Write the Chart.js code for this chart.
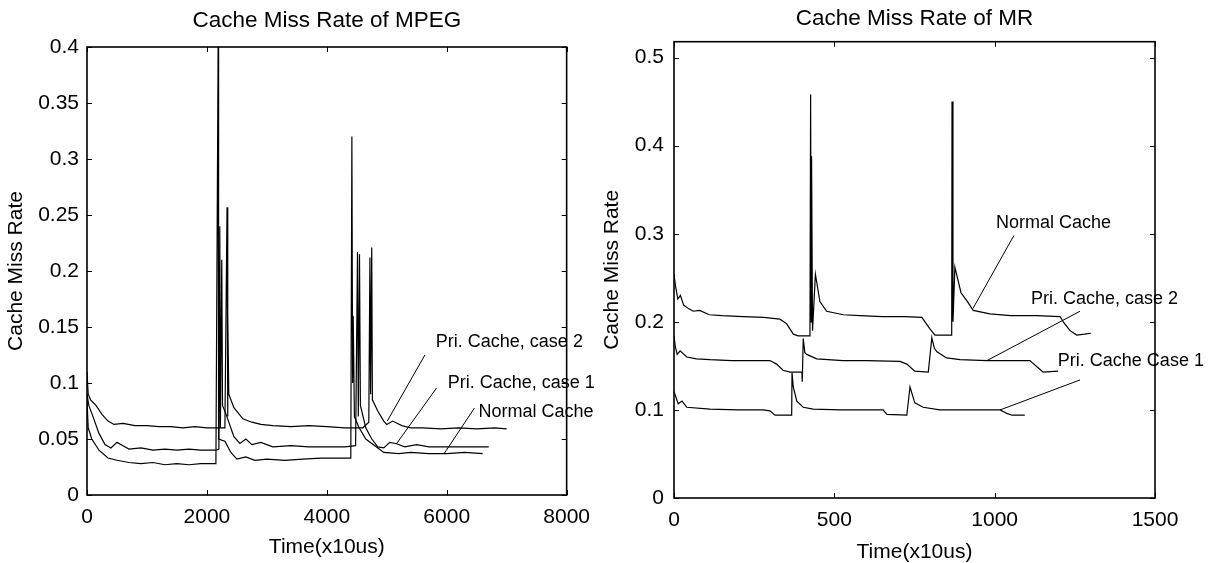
<!DOCTYPE html>
<html>
<head>
<meta charset="utf-8">
<title>Cache Miss Rate</title>
<script src="https://cdn.jsdelivr.net/npm/chart.js@4.4.1/dist/chart.umd.min.js"></script>
<style>
  html, body { margin: 0; padding: 0; background: #fff; }
  #wrap { position: relative; width: 1209px; height: 563px; overflow: hidden; }
  .panel { position: absolute; top: 0; height: 563px; }
  #pLeft { left: 0; width: 600px; }
  #pRight { left: 600px; width: 609px; }
</style>
</head>
<body>
<div id="wrap">
  <div class="panel" id="pLeft"><canvas id="mpeg"></canvas></div>
  <div class="panel" id="pRight"><canvas id="mr"></canvas></div>
</div>
<script>
// ---- MPEG panel data: [time (x10us), miss rate] ----
const mpegCase2 = [
  [0, 0.11], [20, 0.09], [60, 0.085], [150, 0.08], [250, 0.072], [350, 0.066], [450, 0.063],
  [600, 0.064], [800, 0.062], [1000, 0.062], [1200, 0.061], [1400, 0.061], [1600, 0.060],
  [1800, 0.061], [2000, 0.060], [2150, 0.060], [2300, 0.060], [2336, 0.257], [2345, 0.07],
  [2350, 0.16], [2365, 0.09], [2450, 0.078], [2600, 0.068], [2750, 0.065], [2900, 0.063],
  [3100, 0.062], [3400, 0.061], [3700, 0.062], [4000, 0.061], [4300, 0.060], [4600, 0.060],
  [4700, 0.065], [4719, 0.212], [4730, 0.09], [4749, 0.221], [4760, 0.085], [4850, 0.075],
  [4950, 0.066], [5000, 0.063], [5100, 0.066], [5250, 0.062], [5400, 0.060], [5600, 0.060],
  [5900, 0.059], [6200, 0.060], [6500, 0.059], [6800, 0.060], [7000, 0.059]
];
const mpegCase1 = [
  [0, 0.09], [30, 0.08], [100, 0.07], [200, 0.055], [300, 0.045], [400, 0.042], [500, 0.047],
  [600, 0.044], [700, 0.041], [900, 0.042], [1100, 0.040], [1300, 0.041], [1500, 0.040],
  [1700, 0.041], [1900, 0.040], [2150, 0.040], [2200, 0.041], [2215, 0.24], [2225, 0.06],
  [2248, 0.21], [2260, 0.08], [2320, 0.072], [2450, 0.052], [2550, 0.046], [2650, 0.05],
  [2750, 0.045], [2900, 0.047], [3100, 0.043], [3400, 0.044], [3700, 0.043], [4000, 0.043],
  [4300, 0.043], [4480, 0.044], [4512, 0.217], [4525, 0.07], [4545, 0.215], [4560, 0.08],
  [4650, 0.06], [4750, 0.05], [4850, 0.043], [4950, 0.042], [5050, 0.047], [5150, 0.046],
  [5300, 0.043], [5500, 0.045], [5700, 0.043], [6000, 0.043], [6300, 0.043], [6700, 0.043]
];
const mpegNormal = [
  [0, 0.085], [20, 0.06], [80, 0.05], [200, 0.04], [350, 0.033], [500, 0.031], [700, 0.029],
  [900, 0.028], [1100, 0.029], [1300, 0.027], [1500, 0.028], [1700, 0.027], [1900, 0.028],
  [2150, 0.028], [2187, 0.40], [2195, 0.05], [2300, 0.048], [2400, 0.038], [2500, 0.032],
  [2650, 0.034], [2800, 0.031], [3000, 0.032], [3300, 0.031], [3600, 0.032], [3900, 0.033],
  [4200, 0.033], [4400, 0.033], [4418, 0.32], [4430, 0.10], [4440, 0.16], [4460, 0.07],
  [4530, 0.061], [4650, 0.05], [4800, 0.044], [4950, 0.038], [5200, 0.037], [5400, 0.038],
  [5700, 0.037], [6000, 0.037], [6300, 0.038], [6600, 0.037]
];

// ---- MR panel data ----
const mrNormal = [
  [0, 0.254], [5, 0.24], [12, 0.226], [20, 0.23], [30, 0.219], [45, 0.215], [60, 0.212],
  [80, 0.213], [110, 0.208], [150, 0.207], [216, 0.206], [280, 0.205], [330, 0.203],
  [351, 0.198], [372, 0.186], [387, 0.184], [424, 0.184], [426, 0.458], [428, 0.2],
  [429, 0.388], [432, 0.19], [441, 0.254], [455, 0.223], [476, 0.212], [528, 0.208],
  [580, 0.207], [650, 0.206], [720, 0.206], [773, 0.205], [798, 0.192], [814, 0.185],
  [866, 0.185], [867, 0.45], [870, 0.2], [876, 0.262], [895, 0.233], [913, 0.224],
  [933, 0.213], [985, 0.209], [1050, 0.207], [1130, 0.207], [1204, 0.206], [1214, 0.2],
  [1235, 0.19], [1256, 0.185], [1280, 0.186], [1300, 0.187]
];
const mrCase2 = [
  [0, 0.184], [4, 0.172], [10, 0.163], [19, 0.167], [40, 0.16], [70, 0.158], [112, 0.157],
  [180, 0.156], [250, 0.156], [299, 0.156], [320, 0.152], [340, 0.145], [362, 0.143],
  [399, 0.143], [400, 0.132], [403, 0.181], [408, 0.165], [414, 0.163], [445, 0.158],
  [527, 0.156], [600, 0.156], [705, 0.155], [726, 0.152], [751, 0.144], [793, 0.143],
  [804, 0.182], [812, 0.17], [820, 0.166], [850, 0.159], [892, 0.157], [975, 0.156],
  [1110, 0.156], [1116, 0.154], [1151, 0.143], [1198, 0.144]
];
const mrCase1 = [
  [0, 0.121], [13, 0.107], [25, 0.11], [40, 0.103], [112, 0.101], [200, 0.1], [278, 0.1],
  [299, 0.099], [315, 0.094], [367, 0.094], [368, 0.142], [372, 0.126], [383, 0.11],
  [403, 0.103], [434, 0.101], [520, 0.1], [652, 0.1], [664, 0.095], [726, 0.094],
  [736, 0.126], [751, 0.108], [777, 0.103], [829, 0.1], [1017, 0.1], [1038, 0.096],
  [1054, 0.094], [1094, 0.094]
];

// callout labels: text, text anchor, pointer start, pointer end (data units)
const mpegNotes = [
  { text: "Pri. Cache, case 2", at: [5818, 0.137], from: [5636, 0.125], to: [5008, 0.066] },
  { text: "Pri. Cache, case 1", at: [6017, 0.100], from: [5830, 0.0955], to: [5165, 0.046] },
  { text: "Normal Cache",       at: [6529, 0.0744], from: [6463, 0.0777], to: [5957, 0.037] }
];
const mrNotes = [
  { text: "Normal Cache",       at: [1004, 0.312], from: [1060, 0.298], to: [932, 0.215] },
  { text: "Pri. Cache, case 2", at: [1113, 0.226], from: [1266, 0.212], to: [976, 0.156] },
  { text: "Pri. Cache Case 1",  at: [1197, 0.155], from: [1266, 0.134], to: [1017, 0.100] }
];

const FONT = '"Liberation Sans", Arial, Helvetica, sans-serif';
const toXY = arr => arr.map(p => ({ x: p[0], y: p[1] }));
const fmt = v => String(+(+v).toFixed(3));

// MATLAB-style box with inward tick marks
const frame = {
  id: "frame",
  afterDatasetsDraw(chart) {
    const { ctx, chartArea: a, scales: { x, y } } = chart;
    ctx.save();
    ctx.strokeStyle = "#000";
    ctx.lineWidth = 1;
    ctx.beginPath();
    x.ticks.forEach(t => {
      const px = Math.round(x.getPixelForValue(t.value)) + 0.5;
      ctx.moveTo(px, a.bottom); ctx.lineTo(px, a.bottom - 5);
      ctx.moveTo(px, a.top); ctx.lineTo(px, a.top + 5);
    });
    y.ticks.forEach(t => {
      const py = Math.round(y.getPixelForValue(t.value)) + 0.5;
      ctx.moveTo(a.left, py); ctx.lineTo(a.left + 5, py);
      ctx.moveTo(a.right, py); ctx.lineTo(a.right - 5, py);
    });
    ctx.stroke();
    ctx.lineWidth = 1.6;
    ctx.strokeRect(a.left, a.top, a.right - a.left, a.bottom - a.top);
    ctx.restore();
  }
};

function callouts(items) {
  return {
    id: "callouts",
    afterDatasetsDraw(chart) {
      const { ctx, scales: { x, y } } = chart;
      ctx.save();
      ctx.strokeStyle = "#000";
      ctx.fillStyle = "#000";
      ctx.lineWidth = 1;
      ctx.font = "18px " + FONT;
      ctx.textBaseline = "middle";
      ctx.textAlign = "left";
      items.forEach(c => {
        ctx.beginPath();
        ctx.moveTo(x.getPixelForValue(c.from[0]), y.getPixelForValue(c.from[1]));
        ctx.lineTo(x.getPixelForValue(c.to[0]), y.getPixelForValue(c.to[1]));
        ctx.stroke();
        ctx.fillText(c.text, x.getPixelForValue(c.at[0]), y.getPixelForValue(c.at[1]));
      });
      ctx.restore();
    }
  };
}

function panel(canvas, cfg) {
  const ds = cfg.series.map(s => ({
    data: toXY(s), borderColor: "#000", borderWidth: 1.2, pointRadius: 0,
    tension: 0, fill: false
  }));
  return new Chart(canvas, {
    type: "line",
    data: { datasets: ds },
    plugins: [frame, callouts(cfg.notes)],
    options: {
      responsive: true, maintainAspectRatio: false, animation: false,
      parsing: false, normalized: true,
      layout: { padding: { left: 0, right: cfg.padRight, top: 0, bottom: 0 } },
      plugins: {
        legend: { display: false },
        tooltip: { enabled: false },
        title: {
          display: true, text: cfg.title, color: "#000", fullSize: false,
          font: { family: FONT, size: 22.5, weight: "normal", lineHeight: 1.2 },
          padding: cfg.titlePad
        }
      },
      scales: {
        x: {
          type: "linear", min: 0, max: cfg.xMax,
          grid: { display: false, drawTicks: false }, border: { display: false },
          ticks: { stepSize: cfg.xStep, color: "#000", padding: cfg.xTickPad, maxRotation: 0,
                   font: { family: FONT, size: 21 }, callback: v => String(v) },
          title: { display: true, text: "Time(x10us)", color: "#000",
                   font: { family: FONT, size: 21, lineHeight: 1 },
                   padding: { top: 0, bottom: cfg.xTitlePad } },
          afterFit: s => { s.height = cfg.xHeight; }
        },
        y: {
          type: "linear", min: 0, max: cfg.yMax,
          grid: { display: false, drawTicks: false }, border: { display: false },
          ticks: { stepSize: cfg.yStep, includeBounds: false, color: "#000", padding: cfg.yTickPad,
                   font: { family: FONT, size: 21 }, callback: fmt },
          title: { display: true, text: "Cache Miss Rate", color: "#000",
                   font: { family: FONT, size: 21, lineHeight: 1 },
                   padding: { top: cfg.yTitlePad, bottom: 0 } },
          afterFit: s => { s.width = cfg.yWidth; }
        }
      }
    }
  });
}

panel(document.getElementById("mpeg"), {
  title: "Cache Miss Rate of MPEG",
  series: [mpegCase2, mpegCase1, mpegNormal],
  notes: mpegNotes,
  xMax: 8000, xStep: 2000, yMax: 0.4, yStep: 0.05,
  padRight: 30, yWidth: 87, xHeight: 68,
  titlePad: { top: 7, bottom: 13 },
  xTickPad: 10, xTitlePad: 5, yTickPad: 8, yTitlePad: 6
});

panel(document.getElementById("mr"), {
  title: "Cache Miss Rate of MR",
  series: [mrNormal, mrCase2, mrCase1],
  notes: mrNotes,
  xMax: 1500, xStep: 500, yMax: 0.518, yStep: 0.1,
  padRight: 54, yWidth: 74, xHeight: 65,
  titlePad: { top: 5, bottom: 9.7 },
  xTickPad: 10, xTitlePad: 0, yTickPad: 10, yTitlePad: 2
});
</script>
</body>
</html>
